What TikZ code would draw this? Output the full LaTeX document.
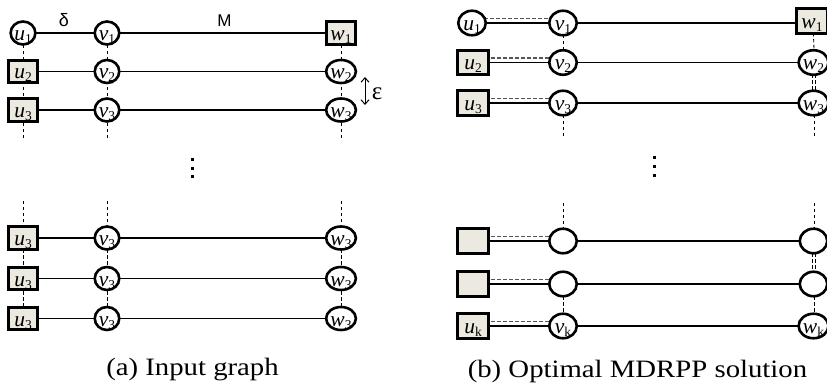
\documentclass[tikz,border=0pt]{standalone}
\usepackage{fontspec}
\setmainfont{Liberation Serif}
\newfontfamily\sansf{Liberation Sans}
\newfontfamily\capf[FakeStretch=1.15]{Liberation Serif}
\usetikzlibrary{shapes.geometric,backgrounds,arrows.meta}
\definecolor{sqfill}{RGB}{236,234,224}
\definecolor{dgray}{RGB}{85,85,85}
\newcommand{\lb}[2]{\smash{\raisebox{-7.5pt}{\fontsize{21.5}{21.5}\selectfont\itshape #1\/\raisebox{-3pt}{\upshape\fontsize{13.5}{13.5}\selectfont #2}}}}
\tikzset{
  nd/.style={ellipse, draw, line width=2.6pt, fill=white, inner sep=0pt, minimum width=24.5pt, minimum height=23pt},
  sq/.style={rectangle, draw, line width=2.6pt, fill=sqfill, inner sep=0pt, minimum width=29.5pt, minimum height=22.5pt},
  ndb/.style={nd, minimum width=27.5pt, minimum height=24.5pt},
  sqb/.style={sq, minimum width=31.5pt, minimum height=24.5pt},
  edge/.style={line width=1.2pt},
  vdash/.style={line width=0.9pt, dash pattern=on 3.5pt off 2.5pt},
  hdash/.style={line width=1.2pt, dash pattern=on 4pt off 2pt, dgray},
  captxt/.style={anchor=base, font=\capf\fontsize{25}{25}\selectfont},
  sym/.style={anchor=base, font=\fontsize{18}{18}\selectfont}
}
\begin{document}
\begin{tikzpicture}[x=1pt,y=-1pt]
\useasboundingbox (0,0) rectangle (827,390);
% ---------------- (a) ----------------
\node[nd] (a-u1) at (23,33) {\lb{u}{1}};
\node[sq] (a-u2) at (23,71.5) {\lb{u}{2}};
\node[sq] (a-u3) at (23,110) {\lb{u}{3}};
\node[nd] (a-v1) at (107,33) {\lb{v}{1}};
\node[nd] (a-v2) at (107,71.5) {\lb{v}{2}};
\node[nd] (a-v3) at (107,110) {\lb{v}{3}};
\node[sq] (a-w1) at (341,33) {\lb{w}{1}};
\node[nd] (a-w2) at (341,71.5) {\lb{w}{2}};
\node[nd] (a-w3) at (341,110) {\lb{w}{3}};
\node[sq] (a-u4) at (23,238) {\lb{u}{3}};
\node[sq] (a-u5) at (23,278.5) {\lb{u}{3}};
\node[sq] (a-u6) at (23,318.5) {\lb{u}{3}};
\node[nd] (a-v4) at (107,238) {\lb{v}{3}};
\node[nd] (a-v5) at (107,278.5) {\lb{v}{3}};
\node[nd] (a-v6) at (107,318.5) {\lb{v}{3}};
\node[nd] (a-w4) at (341,238) {\lb{w}{3}};
\node[nd] (a-w5) at (341,278.5) {\lb{w}{3}};
\node[nd] (a-w6) at (341,318.5) {\lb{w}{3}};
\coordinate (a-ue) at (23,140);
\coordinate (a-ve) at (107,140);
\coordinate (a-we) at (341,140);
\coordinate (a-us) at (23,201);
\coordinate (a-vs) at (107,201);
\coordinate (a-ws) at (341,201);
\node[sym, font=\sansf\fontsize{18}{18}\selectfont] (delta) at (64,27) {δ};
\node[sym, font=\sansf\fontsize{17}{17}\selectfont] (M) at (224.5,27) {M};
\coordinate (eps-t) at (365,77);
\coordinate (eps-b) at (365,105);
\node[sym, font=\fontsize{25}{25}\selectfont] (eps) at (377,99.5) {ε};
\draw[line width=1pt, {Straight Barb[length=4.5pt,width=8pt]}-{Straight Barb[length=4.5pt,width=8pt]}] (eps-t) -- (eps-b);
\foreach \yy [count=\i] in {160,168.5,177} {
  \node[fill=black, inner sep=0pt, minimum size=3pt] (a-dot\i) at (192,\yy) {};
}
\node[captxt] (capa) at (192.5,375) {(a) Input graph};
% ---------------- (b) ----------------
\node[ndb] (b-u1) at (472,23) {\lb{u}{1}};
\node[sqb] (b-u2) at (473,62.5) {\lb{u}{2}};
\node[sqb] (b-u3) at (473,103) {\lb{u}{3}};
\node[ndb] (b-v1) at (563,23) {\lb{v}{1}};
\node[ndb] (b-v2) at (563,62.5) {\lb{v}{2}};
\node[ndb] (b-v3) at (563,103) {\lb{v}{3}};
\node[sqb] (b-w1) at (812,21) {\lb{w}{1}};
\node[ndb] (b-w2) at (813.5,62.5) {\lb{w}{2}};
\node[ndb] (b-w3) at (813.5,103) {\lb{w}{3}};
\node[sqb] (b-u4) at (473,241) {};
\node[sqb] (b-u5) at (473,284) {};
\node[sqb] (b-u6) at (473,326) {\lb{u}{k}};
\node[ndb] (b-v4) at (563,241) {};
\node[ndb] (b-v5) at (563,284) {};
\node[ndb] (b-v6) at (563,326) {\lb{v}{k}};
\node[ndb] (b-w4) at (813.5,241) {};
\node[ndb] (b-w5) at (813.5,284) {};
\node[ndb] (b-w6) at (813.5,326) {\lb{w}{k}};
\coordinate (b-ve) at (563,137);
\coordinate (b-we) at (814.5,137);
\coordinate (b-vs) at (563,203);
\coordinate (b-ws) at (814.5,203);
\foreach \yy [count=\i] in {158,167,176} {
  \node[fill=black, inner sep=0pt, minimum size=3pt] (b-dot\i) at (654,\yy) {};
}
\node[captxt] (capb) at (637.5,377.5) {(b) Optimal MDRPP solution};
% ---------------- connectors ----------------
\begin{scope}[on background layer]
  \foreach \i in {1,...,6} {
    \draw[edge] (a-u\i.center) -- (a-v\i.center) -- (a-w\i.center);
  }
  \draw[vdash] (a-u1.center) -- (a-u2.center) -- (a-u3.center) -- (a-ue);
  \draw[vdash] (a-v1.center) -- (a-v2.center) -- (a-v3.center) -- (a-ve);
  \draw[vdash] (a-w1.center) -- (a-w2.center) -- (a-w3.center) -- (a-we);
  \draw[vdash] (a-us) -- (a-u4.center) -- (a-u5.center) -- (a-u6.center);
  \draw[vdash] (a-vs) -- (a-v4.center) -- (a-v5.center) -- (a-v6.center);
  \draw[vdash] (a-ws) -- (a-w4.center) -- (a-w5.center) -- (a-w6.center);
  \foreach \i in {1,...,6} {
    \draw[edge] (b-u\i.center) -- (b-v\i.center) -- (b-w\i.center |- b-v\i.center);
    \draw[hdash] ([yshift=4.5pt]b-u\i.center) -- ([yshift=4.5pt]b-v\i.center);
  }
  \draw[vdash] (b-v1.center) -- (b-v2.center);
  \draw[vdash] (b-v3.center) -- (b-ve);
  \draw[vdash] (b-vs) -- (b-v4.center);
  \draw[vdash] (b-v5.center) -- (b-v6.center);
  \draw[vdash] ([xshift=1pt]b-w1.center) -- ([xshift=1pt]b-w2.center);
  \draw[vdash] ([xshift=-1.5pt]b-w2.center) -- ([xshift=-1.5pt]b-w3.center);
  \draw[vdash] ([xshift=1.5pt]b-w2.center) -- ([xshift=1.5pt]b-w3.center);
  \draw[vdash] ([xshift=1pt]b-w3.center) -- (b-we);
  \draw[vdash] (b-ws) -- ([xshift=1pt]b-w4.center);
  \draw[vdash] ([xshift=-1.5pt]b-w4.center) -- ([xshift=-1.5pt]b-w5.center);
  \draw[vdash] ([xshift=1.5pt]b-w4.center) -- ([xshift=1.5pt]b-w5.center);
  \draw[vdash] ([xshift=1pt]b-w5.center) -- ([xshift=1pt]b-w6.center);
\end{scope}
\end{tikzpicture}
\end{document}
